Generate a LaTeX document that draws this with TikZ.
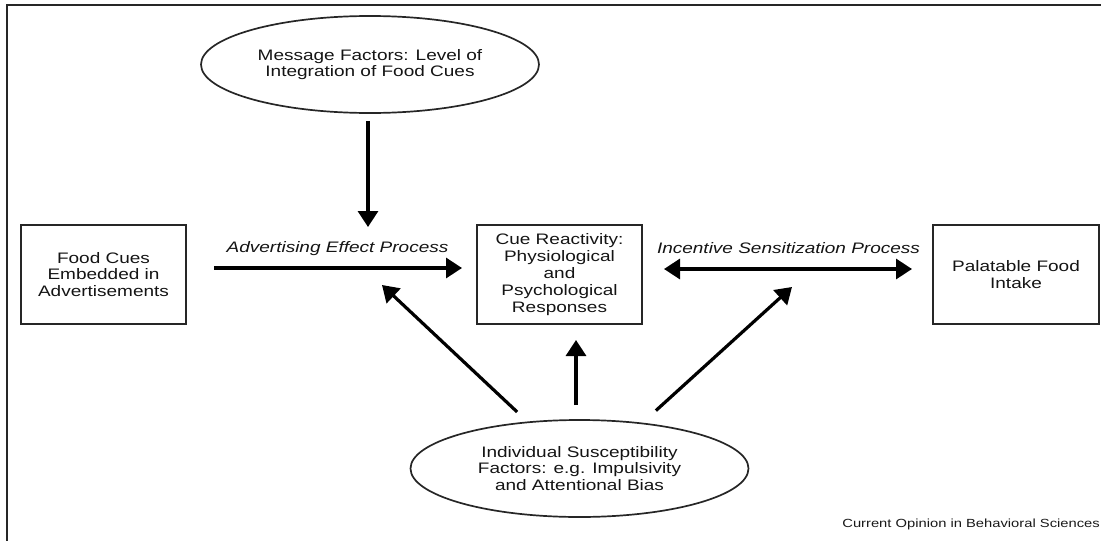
\documentclass[tikz,border=0pt]{standalone}
\usepackage{fontspec}
\setmainfont[FakeStretch=1.25]{Liberation Sans}
\usetikzlibrary{arrows.meta,shapes.geometric}
\begin{document}
\begin{tikzpicture}[x=1pt,y=-1pt,
  txt/.style={font=\fontsize{15.2}{16.8}\selectfont, text=black!92, align=center},
  box/.style={txt, draw=black!85, line width=2pt, minimum width=165pt, minimum height=99pt, inner sep=0pt},
  oval/.style={txt, ellipse, draw=black!85, line width=1.7pt, minimum width=338pt, minimum height=97pt, inner sep=0pt},
  tip/.tip={Triangle[length=16pt,width=20pt]},
  arr/.style={draw=black, line width=3.2pt, -tip},
  darr/.style={draw=black, line width=3.2pt, tip-tip},
  proc/.style={txt, font=\fontsize{15.2}{16.8}\selectfont\itshape},
]
\useasboundingbox (0,0) rectangle (1101,541);
% outer frame (top and left rules)
\draw[black!85, line width=2.5pt] (7,541) -- (7,5) -- (1101,5);

% nodes
\node[oval] (msg) at (370,64.5) {Message Factors: Level of\\Integration of Food Cues};
\node[box] (food) at (103.5,274.5) {Food Cues\\Embedded in\\Advertisements};
\node[box] (cue) at (559.5,274.5) {Cue Reactivity:\\Physiological\\and\\Psychological\\Responses};
\node[box, minimum width=166pt] (pal) at (1016,274.5) {Palatable Food\\Intake};
\node[oval] (ind) at (579.5,468.5) {Individual Susceptibility\\Factors: e.g. Impulsivity\\and Attentional Bias};
\node[proc] (adv) at (337.5,249) {Advertising Effect Process};
\node[proc] (inc) at (788.5,248) {Incentive Sensitization Process};
\node[font=\fontsize{11.8}{13}\selectfont, text=black!90, anchor=base east, inner sep=0pt] (src) at (1100,527) {Current Opinion in Behavioral Sciences};

% free arrow ends
\coordinate (t0) at (368,227);
\coordinate (t1) at (382,285);
\coordinate (t2) at (576,340);
\coordinate (t3) at (792,287);

% connectors
\draw[arr, shorten <=7pt] (msg.south -| t0) -- (t0);
\draw[arr, shorten <=27pt, shorten >=14pt] ([yshift=6.5pt]food.east) -- ([yshift=6.5pt]cue.west);
\draw[darr, shorten <=21pt, shorten >=20pt] ([yshift=5.5pt]cue.east) -- ([yshift=5.5pt]pal.west);
\draw[arr, shorten <=14pt] (ind.138) -- (t1);
\draw[arr, shorten <=14pt] (ind.north -| t2) -- (t2);
\draw[arr, shorten <=18pt] (ind.36) -- (t3);
\end{tikzpicture}
\end{document}
